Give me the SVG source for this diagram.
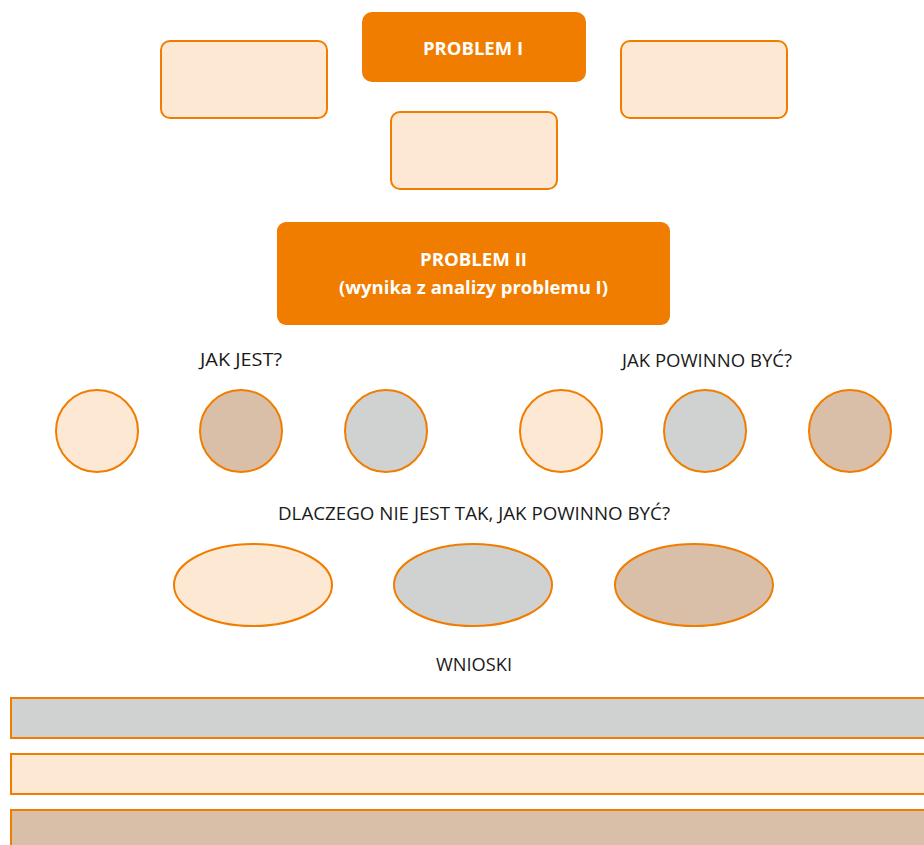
<svg xmlns="http://www.w3.org/2000/svg" width="924" height="845" viewBox="0 0 924 845">
<style>
.main{fill:#F07D00}
.box{fill:#FDE9D3;stroke:#F07D00;stroke-width:2}
.lt{fill:#FDE9D3;stroke:#F07D00;stroke-width:2}
.tn{fill:#D9BFA7;stroke:#F07D00;stroke-width:2}
.gr{fill:#D0D2D1;stroke:#F07D00;stroke-width:2}
.wt{font-family:"Open Sans","Liberation Sans",sans-serif;font-weight:bold;fill:#fff;font-size:18px;text-anchor:middle}
.lb{font-family:"Open Sans","Liberation Sans",sans-serif;fill:#1a1a1a;font-size:18px;text-anchor:middle}
</style>
<rect width="924" height="845" fill="#fff"/>
<g id="problem1"><rect class="main" x="362" y="12" width="224" height="70" rx="10"/><text class="wt" x="473" y="55" textLength="100" lengthAdjust="spacingAndGlyphs">PROBLEM I</text></g>
<g id="box-left"><rect class="box" x="161" y="41" width="166" height="77" rx="9"/></g>
<g id="box-right"><rect class="box" x="621" y="41" width="166" height="77" rx="9"/></g>
<g id="box-mid"><rect class="box" x="391" y="112" width="166" height="77" rx="9"/></g>
<g id="problem2"><rect class="main" x="277" y="222" width="393" height="103" rx="9"/>
<text class="wt" x="473.5" y="266" textLength="107" lengthAdjust="spacingAndGlyphs">PROBLEM II</text>
<text class="wt" x="473.5" y="294" textLength="269" lengthAdjust="spacingAndGlyphs">(wynika z analizy problemu I)</text></g>
<text class="lb" x="241" y="366" textLength="82" lengthAdjust="spacingAndGlyphs">JAK JEST?</text>
<text class="lb" x="707" y="367" textLength="170" lengthAdjust="spacingAndGlyphs">JAK POWINNO BYĆ?</text>
<g id="c1"><circle class="lt" cx="97" cy="431" r="41"/></g>
<g id="c2"><circle class="tn" cx="241" cy="431" r="41"/></g>
<g id="c3"><circle class="gr" cx="386" cy="431" r="41"/></g>
<g id="c4"><circle class="lt" cx="561" cy="431" r="41"/></g>
<g id="c5"><circle class="gr" cx="705" cy="431" r="41"/></g>
<g id="c6"><circle class="tn" cx="850" cy="431" r="41"/></g>
<text class="lb" x="474" y="520" textLength="392" lengthAdjust="spacingAndGlyphs">DLACZEGO NIE JEST TAK, JAK POWINNO BYĆ?</text>
<g id="e1"><ellipse class="lt" cx="253" cy="585" rx="79" ry="41"/></g>
<g id="e2"><ellipse class="gr" cx="473" cy="585" rx="79" ry="41"/></g>
<g id="e3"><ellipse class="tn" cx="694" cy="585" rx="79" ry="41"/></g>
<text class="lb" x="474" y="671" textLength="76" lengthAdjust="spacingAndGlyphs">WNIOSKI</text>
<g id="bar1"><rect class="gr" x="11" y="698" width="930" height="40"/></g>
<g id="bar2"><rect class="lt" x="11" y="754" width="930" height="40"/></g>
<g id="bar3"><rect class="tn" x="11" y="810" width="930" height="50"/></g>
<g id="connectors"></g>
</svg>
